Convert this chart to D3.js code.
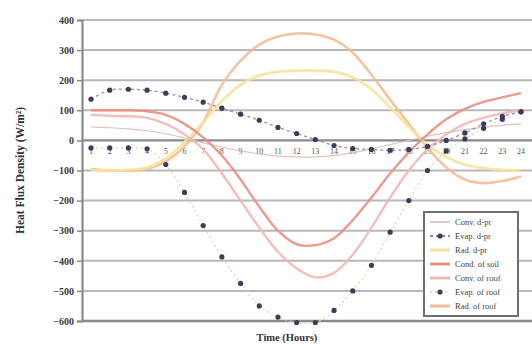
<!DOCTYPE html>
<html>
<head>
<meta charset="utf-8">
<script src="https://cdn.jsdelivr.net/npm/d3@7"></script>
<style>
  html, body { margin: 0; padding: 0; background: #ffffff; }
  svg { display: block; }
  text { font-family: "Liberation Serif", "DejaVu Serif", serif; }
</style>
</head>
<body>
<svg id="chart" width="532" height="347"></svg>
<script>
// Hourly heat flux density components (W/m²)
const hours = d3.range(1, 25);
const yTicks = [400, 300, 200, 100, 0, -100, -200, -300, -400, -500, -600];

const convDpr   = [45, 42, 38, 32, 22, 8, -8, -22, -35, -45, -52, -55, -55, -50, -40, -28, -14, 0, 14, 26, 36, 44, 50, 55];
const evapDpr   = [137, 167, 170, 167, 157, 143, 127, 107, 87, 67, 43, 23, 3, -17, -27, -30, -33, -30, -20, 0, 25, 55, 80, 95];
const radDpr    = [-100, -100, -98, -90, -60, -5, 60, 130, 185, 215, 228, 232, 232, 228, 210, 170, 110, 45, -15, -55, -80, -92, -98, -100];
const condSoil  = [100, 100, 100, 97, 85, 55, 10, -50, -130, -220, -300, -345, -348, -325, -265, -190, -110, -40, 20, 70, 105, 128, 143, 157];
const convRoof  = [85, 82, 80, 75, 55, 20, -30, -110, -200, -290, -370, -425, -455, -440, -380, -290, -190, -100, -30, 20, 55, 75, 90, 100];
const evapRoof  = [-25, -25, -25, -28, -80, -173, -283, -387, -475, -550, -587, -605, -605, -565, -500, -415, -305, -200, -100, -35, 5, 40, 70, 95];
const radRoof   = [-95, -100, -100, -95, -70, -20, 60, 185, 265, 318, 345, 355, 352, 335, 292, 218, 135, 55, -25, -90, -130, -142, -135, -120];

const seriesNames = ["Conv. d-pr", "Evap. d-pr", "Rad. d-pr", "Cond. of soil", "Conv. of roof", "Evap. of roof", "Rad. of roof"];
const seriesValues = [convDpr, evapDpr, radDpr, condSoil, convRoof, evapRoof, radRoof];
const seriesStyle = [
  { color: "#dcbdb8", width: 1.2, dash: null, marker: false },
  { color: "#8a849c", width: 1.3, dash: "3,3", marker: true, markerColor: "#3f3a5e" },
  { color: "#f7e39a", width: 2.8, dash: null, marker: false },
  { color: "#ea8f82", width: 2.4, dash: null, marker: false },
  { color: "#f2b7b4", width: 2.4, dash: null, marker: false },
  { color: "#d7d3a8", width: 1.2, dash: "2,3", marker: true, markerColor: "#403b5c" },
  { color: "#f3bd97", width: 2.6, dash: null, marker: false }
];

const svg = d3.select("#chart");

const x = d3.scalePoint().domain(hours).range([91, 521]);
const y = d3.scaleLinear().domain([-600, 400]).range([321, 20]);

// Horizontal gridlines
svg.append("g")
  .selectAll("line")
  .data(yTicks)
  .join("line")
  .attr("x1", 82).attr("x2", 532)
  .attr("y1", d => y(d)).attr("y2", d => y(d))
  .attr("stroke", d => d === 0 || d === -600 ? "#8a8a8a" : "#b8b8b8")
  .attr("stroke-width", d => d === 0 || d === -600 ? 2.4 : 2);

// Left axis with tick labels
const yAxis = svg.append("g")
  .attr("transform", "translate(82,0)")
  .call(d3.axisLeft(y).tickValues(yTicks).tickSize(5).tickFormat(d3.format("d")));
yAxis.select(".domain").attr("stroke", "#8a8a8a").attr("stroke-width", 2.2);
yAxis.selectAll(".tick line").attr("stroke", "#8a8a8a").attr("stroke-width", 1.5);
yAxis.selectAll(".tick text")
  .attr("x", -8)
  .attr("font-size", 10)
  .attr("font-weight", "bold")
  .attr("fill", "#3a3a3a")
  .style("font-family", "'Liberation Serif', serif");

// Hour labels sitting under the zero line
svg.append("g")
  .selectAll("text")
  .data(hours)
  .join("text")
  .attr("x", d => x(d))
  .attr("y", y(0) + 14)
  .attr("text-anchor", "middle")
  .attr("font-size", 8)
  .attr("fill", "#555")
  .text(d => d);

// Series curves
const line = d3.line()
  .x((d, i) => x(hours[i]))
  .y(d => y(d))
  .curve(d3.curveCatmullRom.alpha(0.5));

const drawOrder = [6, 2, 0, 3, 4, 5, 1];
drawOrder.forEach(k => {
  const st = seriesStyle[k];
  const g = svg.append("g");
  g.append("path")
    .datum(seriesValues[k])
    .attr("d", line)
    .attr("fill", "none")
    .attr("stroke", st.color)
    .attr("stroke-width", st.width)
    .attr("stroke-dasharray", st.dash)
    .attr("opacity", 0.9);
  if (st.marker) {
    g.selectAll("circle")
      .data(seriesValues[k])
      .join("circle")
      .attr("cx", (d, i) => x(hours[i]))
      .attr("cy", d => y(d))
      .attr("r", 2.6)
      .attr("fill", st.markerColor);
  }
});

// Axis titles
svg.append("text")
  .attr("transform", "translate(24," + ((y(400) + y(-600)) / 2) + ") rotate(-90)")
  .attr("text-anchor", "middle")
  .attr("font-size", 11.5)
  .attr("font-weight", "bold")
  .attr("fill", "#333")
  .text("Heat Flux Density (W/m²)");

svg.append("text")
  .attr("x", 287)
  .attr("y", 341)
  .attr("text-anchor", "middle")
  .attr("font-size", 10.5)
  .attr("font-weight", "bold")
  .attr("fill", "#333")
  .text("Time (Hours)");

// Legend
const lg = svg.append("g").attr("transform", "translate(424,212)");
lg.append("rect")
  .attr("width", 94).attr("height", 104)
  .attr("fill", "#fff")
  .attr("stroke", "#6f6f6f")
  .attr("stroke-width", 2);
seriesNames.forEach((name, k) => {
  const st = seriesStyle[k];
  const row = lg.append("g").attr("transform", "translate(0," + (10 + k * 14) + ")");
  row.append("line")
    .attr("x1", 6).attr("x2", 26)
    .attr("stroke", st.color)
    .attr("stroke-width", Math.min(st.width + 0.5, 3))
    .attr("stroke-dasharray", st.dash);
  if (st.marker) {
    row.append("circle").attr("cx", 16).attr("r", 2.6).attr("fill", st.markerColor);
  }
  row.append("text")
    .attr("x", 31).attr("y", 3)
    .attr("font-size", 8.5)
    .attr("fill", "#444")
    .text(name);
});
</script>
</body>
</html>
